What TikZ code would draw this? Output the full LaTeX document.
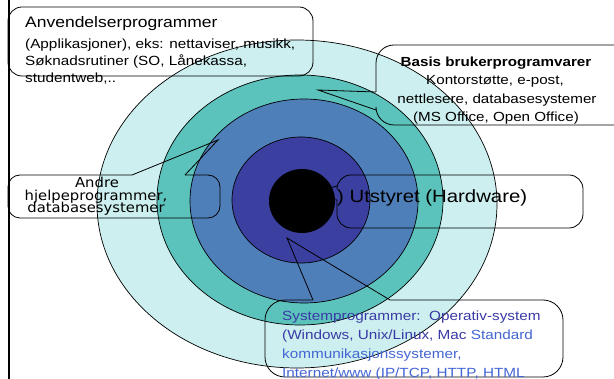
\documentclass[tikz,border=0pt]{standalone}
\usepackage{fontspec}
\setmainfont{Liberation Sans}[FakeStretch=1.15]
\newfontfamily\comicx{DejaVu Sans}[FakeStretch=1.08]
\definecolor{ringA}{HTML}{CDEFEF}
\definecolor{ringB}{HTML}{5CC3BC}
\definecolor{ringC}{HTML}{4F7FB9}
\definecolor{ringD}{HTML}{3B3F9F}
\definecolor{sysdark}{HTML}{3A3AA6}
\definecolor{syslight}{HTML}{4466D4}
\begin{document}
\begin{tikzpicture}[x=1pt,y=-1pt,
  ring/.style={draw=black, line width=0.7pt},
  callout/.style={draw=black, line width=0.8pt},
  txt/.style={inner sep=0pt, anchor=base west, font=\fontsize{13.3}{15}\selectfont},
  ctxt/.style={inner sep=0pt, anchor=base, font=\fontsize{13.2}{15}\selectfont},
  andre/.style={inner sep=0pt, anchor=base, font=\comicx\fontsize{13.7}{13}\selectfont}]
\useasboundingbox (0,0) rectangle (614,379);
\fill[white] (0,0) rectangle (614,379);

% rings
\filldraw[ring, fill=ringA] (297,204) ellipse [x radius=200pt, y radius=164pt];
\filldraw[ring, fill=ringB] (300,200) ellipse [x radius=143pt, y radius=125pt];
\filldraw[ring, fill=ringC] (304,201) ellipse [x radius=114pt, y radius=102pt];
\filldraw[ring, fill=ringD] (301,200) ellipse [x radius=69pt, y radius=63pt];

% left rule
\draw[line width=2.6pt] (9,0) -- (9,379);

% callout: Anvendelserprogrammer
\draw[callout, rounded corners=14pt] (8,7) rectangle (313,76);
\node[txt, font=\fontsize{15.2}{17}\selectfont] (anv1) at (25,28) {Anvendelserprogrammer};
\node[txt] (anv2) at (25,49) {(Applikasjoner), eks: nettaviser, musikk,};
\node[txt] (anv3) at (25,65.5) {Søknadsrutiner (SO, Lånekassa,};
\node[txt] (anv4) at (25,82.5) {studentweb,..};

% callout: Basis brukerprogramvarer
\coordinate (bA) at (376,92);
\coordinate (bB) at (376,110);
\coordinate (bTip) at (318,90);
\draw[callout, rounded corners=18pt] (bA) -- (376,45) -- (640,45) -- (640,125) -- (376,125) -- (bB);
\draw[callout, line join=miter] (bA) -- (bTip) -- (bB);
\node[ctxt, font=\bfseries\fontsize{13.2}{15}\selectfont] (bas1) at (496,67) {Basis brukerprogramvarer};
\node[ctxt] (bas2) at (495,85) {Kontorstøtte, e-post,};
\node[ctxt] (bas3) at (497,103.5) {nettlesere, databasesystemer};
\node[ctxt] (bas4) at (496,122) {(MS Office, Open Office)};

% callout: Andre hjelpeprogrammer
\coordinate (aA) at (132,175);
\coordinate (aB) at (185,175);
\coordinate (aTip) at (218,140);
\draw[callout, rounded corners=12pt] (aA) -- (8,175) -- (8,218) -- (220,218) -- (220,175) -- (aB);
\draw[callout, line join=miter] (aA) -- (aTip) -- (aB);
\node[andre] (and1) at (97,188) {Andre};
\node[andre] (and2) at (96,200.5) {hjelpeprogrammer,};
\node[andre] (and3) at (96,213) {databasesystemer};

% callout: Utstyret (Hardware)
\coordinate (uA) at (337,186);
\coordinate (uB) at (337,200);
\coordinate (uTip) at (305,195);
\draw[callout, rounded corners=14pt] (uA) -- (337,175) -- (583,175) -- (583,228) -- (337,228) -- (uB);
\draw[callout, line join=miter] (uA) -- (uTip) -- (uB);
\node[txt, font=\fontsize{17.7}{20}\selectfont] (hw) at (337,203) {) Utstyret (Hardware)};

% callout: Systemprogrammer
\coordinate (sA) at (313,300);
\coordinate (sB) at (390,300);
\coordinate (sTip) at (287,238);
\draw[callout, rounded corners=20pt] (sA) -- (265,300) -- (265,377) -- (563,377) -- (563,300) -- (sB);
\draw[callout, line join=miter] (sA) -- (sTip) -- (sB);
\node[txt, text=sysdark] (sys1) at (282,321) {Systemprogrammer:\ \ Operativ-system};
\node[txt, text=sysdark] (sys2) at (282,340) {(Windows, Unix/Linux, Mac \textcolor{syslight}{Standard}};
\node[txt, text=syslight] (sys3) at (282,359) {kommunikasjonssystemer,};
\node[txt, text=syslight] (sys4) at (282,378) {Internet/www (IP/TCP, HTTP, HTML};

% core
\fill[black] (302,201) ellipse [x radius=33pt, y radius=32pt];
\end{tikzpicture}
\end{document}
